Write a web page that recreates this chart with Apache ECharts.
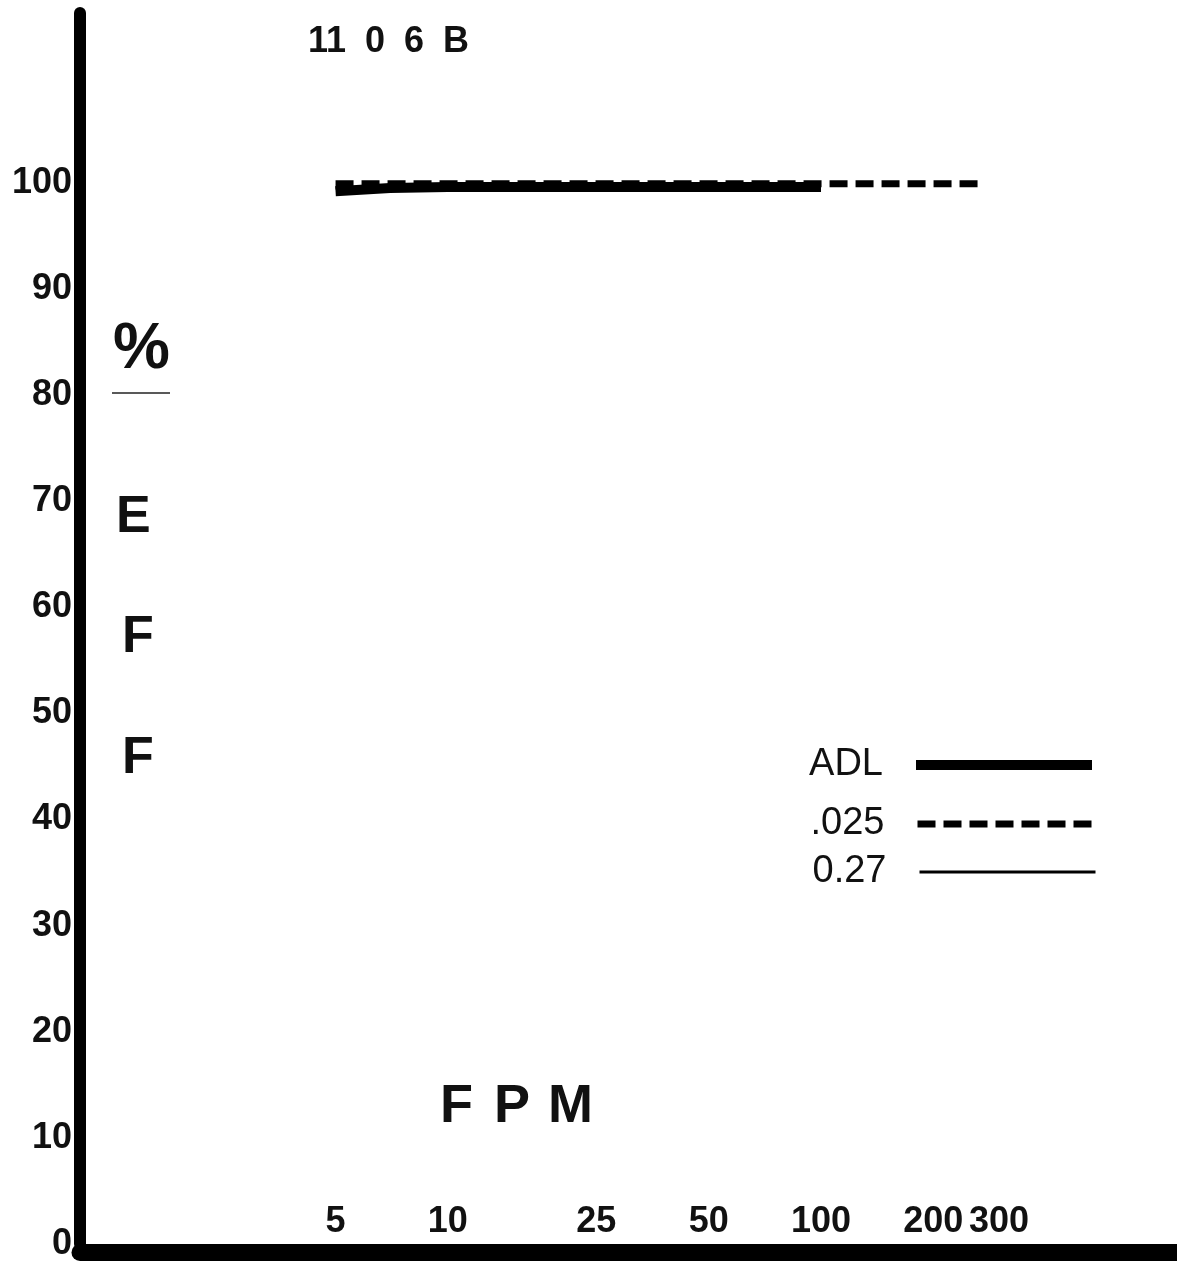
<!DOCTYPE html>
<html>
<head>
<meta charset="utf-8">
<script src="https://cdn.jsdelivr.net/npm/echarts@6/dist/echarts.min.js"></script>
<style>html,body{margin:0;padding:0;background:#fff;}#c{width:1177px;height:1262px;}</style>
</head>
<body>
<div id="c"></div>
<script>
// ---- data ----
const xTickLabels = [5, 10, 25, 50, 100, 200, 300];
const yTickLabels = [0, 10, 20, 30, 40, 50, 60, 70, 80, 90, 100];
const adlX = [5, 7, 10, 25, 50, 100];
const adlY = [99.2, 99.5, 99.6, 99.6, 99.6, 99.6];
const d025X = [5, 10, 25, 50, 100, 200, 275];
const d025Y = [99.9, 99.9, 99.9, 99.9, 99.9, 99.9, 99.9];
const d027X = [5, 10, 25, 50, 100];
const d027Y = [99.5, 99.6, 99.6, 99.6, 99.6];
const seriesNames = ['ADL', '.025', '0.27'];

const pairs = (xs, ys) => xs.map((x, i) => [x, ys[i]]);
const FONT = '"Liberation Sans", Arial, sans-serif';

const chart = echarts.init(document.getElementById('c'), null, {renderer: 'canvas'});

function legendItem(name, centerY, lw, dash) {
  return {
    data: [name],
    orient: 'vertical',
    right: 80,
    top: centerY - 20,
    padding: 0,
    align: 'right',
    itemWidth: 176,
    itemHeight: 20,
    selectedMode: false,
    itemStyle: {color: 'rgba(0,0,0,0)', borderWidth: 0, opacity: 0},
    lineStyle: {color: '#000', width: lw, type: dash, opacity: 1},
    textStyle: {fontFamily: FONT, fontSize: 38, color: '#111', padding: [0, 28, 0, 0]}
  };
}

chart.setOption({
  animation: false,
  backgroundColor: '#ffffff',
  grid: {left: 80, right: 0, top: 13, bottom: 17, containLabel: false},
  xAxis: {
    type: 'log',
    min: 1.033,
    max: 899.6,
    offset: 8,
    axisLine: {show: true, onZero: false, lineStyle: {color: '#000', width: 17}},
    axisTick: {show: false},
    splitLine: {show: false},
    minorSplitLine: {show: false},
    axisLabel: {
      customValues: xTickLabels,
      inside: true,
      margin: 12,
      fontFamily: FONT,
      fontWeight: 'bold',
      fontSize: 36,
      color: '#111'
    }
  },
  yAxis: {
    type: 'value',
    min: 0,
    max: 116,
    interval: 10,
    axisLine: {show: true, onZero: false, lineStyle: {color: '#000', width: 12}},
    axisTick: {show: false},
    splitLine: {show: false},
    axisLabel: {
      customValues: yTickLabels,
      margin: 8,
      fontFamily: FONT,
      fontWeight: 'bold',
      fontSize: 36,
      color: '#111'
    }
  },
  legend: [
    legendItem('ADL', 766, 10, 'solid'),
    legendItem('.025', 825, 7, [18, 8]),
    legendItem('0.27', 873, 3, 'solid')
  ],
  series: [
    {
      name: seriesNames[0], type: 'line', data: pairs(adlX, adlY), symbol: 'none',
      itemStyle: {color: '#000'}, lineStyle: {color: '#000', width: 10}, z: 3
    },
    {
      name: seriesNames[1], type: 'line', data: pairs(d025X, d025Y), symbol: 'none',
      itemStyle: {color: '#000'}, lineStyle: {color: '#000', width: 7, type: [18, 8]}, z: 4
    },
    {
      name: seriesNames[2], type: 'line', data: pairs(d027X, d027Y), symbol: 'none',
      itemStyle: {color: '#000'}, lineStyle: {color: '#000', width: 3}, z: 2
    }
  ],
  graphic: [
    {type: 'text', left: 308, top: 24, style: {text: '11', font: 'bold 36px ' + FONT, fill: '#111'}},
    {type: 'text', left: 365, top: 24, style: {text: '0', font: 'bold 36px ' + FONT, fill: '#111'}},
    {type: 'text', left: 404, top: 24, style: {text: '6', font: 'bold 36px ' + FONT, fill: '#111'}},
    {type: 'text', left: 443, top: 24, style: {text: 'B', font: 'bold 36px ' + FONT, fill: '#111'}},
    {type: 'text', left: 113, top: 318, style: {text: '%', font: 'bold 64px ' + FONT, fill: '#111'}},
    {type: 'line', shape: {x1: 112, y1: 393, x2: 170, y2: 393}, style: {stroke: '#222', lineWidth: 1.5}},
    {type: 'text', left: 116, top: 492, style: {text: 'E', font: 'bold 52px ' + FONT, fill: '#111'}},
    {type: 'text', left: 122, top: 612, style: {text: 'F', font: 'bold 52px ' + FONT, fill: '#111'}},
    {type: 'text', left: 122, top: 733, style: {text: 'F', font: 'bold 52px ' + FONT, fill: '#111'}},
    {type: 'text', left: 440, top: 1080, style: {text: 'F', font: 'bold 54px ' + FONT, fill: '#111'}},
    {type: 'text', left: 494, top: 1080, style: {text: 'P', font: 'bold 54px ' + FONT, fill: '#111'}},
    {type: 'text', left: 548, top: 1080, style: {text: 'M', font: 'bold 54px ' + FONT, fill: '#111'}}
  ]
});
</script>
</body>
</html>
